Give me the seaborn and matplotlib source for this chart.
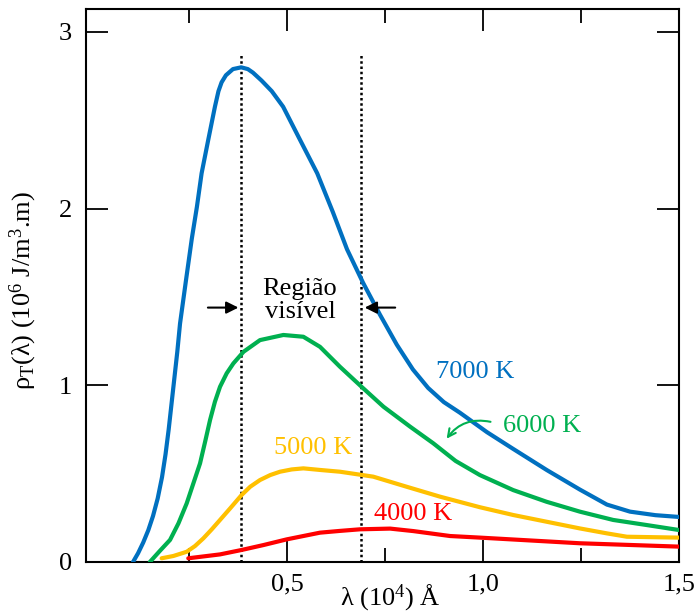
import numpy as np
import pandas as pd
import seaborn as sns
import matplotlib.pyplot as plt

# curves (x in 10^4 Angstrom, y in 10^6 J/m3.m)
lam_7000 = [0.107, 0.120, 0.133, 0.146, 0.158, 0.170, 0.181, 0.190, 0.198, 0.205,
            0.212, 0.220, 0.227, 0.2425, 0.257, 0.270, 0.282, 0.299, 0.316, 0.325,
            0.333, 0.344, 0.362, 0.383, 0.400, 0.413, 0.435, 0.461, 0.490, 0.533,
            0.577, 0.617, 0.653, 0.694, 0.737, 0.780, 0.821, 0.860, 0.900, 0.941,
            1.010, 1.077, 1.163, 1.247, 1.316, 1.375, 1.440, 1.500]
rho_7000 = [0.00, 0.05, 0.11, 0.18, 0.26, 0.36, 0.48, 0.61, 0.75, 0.89,
            1.03, 1.19, 1.35, 1.60, 1.83, 2.01, 2.20, 2.39, 2.577, 2.665,
            2.715, 2.755, 2.79, 2.80, 2.79, 2.77, 2.725, 2.665, 2.577, 2.39,
            2.20, 1.98, 1.77, 1.58, 1.40, 1.23, 1.09, 0.985, 0.905, 0.845,
            0.735, 0.64, 0.52, 0.41, 0.325, 0.285, 0.265, 0.255]

lam_6000 = [0.150, 0.176, 0.2015, 0.223, 0.244, 0.261, 0.278, 0.291, 0.3036, 0.316,
            0.329, 0.346, 0.363, 0.389, 0.431, 0.4906, 0.5416, 0.584, 0.635, 0.690,
            0.746, 0.814, 0.873, 0.930, 0.992, 1.077, 1.162, 1.247, 1.332, 1.418,
            1.500]
rho_6000 = [0.00, 0.064, 0.125, 0.219, 0.332, 0.445, 0.558, 0.681, 0.804, 0.907,
            0.992, 1.068, 1.124, 1.19, 1.256, 1.285, 1.275, 1.218, 1.105, 0.992,
            0.879, 0.766, 0.672, 0.572, 0.492, 0.407, 0.341, 0.285, 0.238, 0.209,
            0.181]

lam_5000 = [0.180, 0.210, 0.244, 0.265, 0.2865, 0.308, 0.329, 0.355, 0.384, 0.406,
            0.431, 0.457, 0.482, 0.512, 0.5416, 0.584, 0.635, 0.720, 0.805, 0.890,
            0.992, 1.077, 1.162, 1.247, 1.316, 1.367, 1.500]
rho_5000 = [0.021, 0.034, 0.058, 0.09, 0.134, 0.185, 0.238, 0.304, 0.379, 0.426,
            0.464, 0.492, 0.511, 0.524, 0.530, 0.521, 0.511, 0.483, 0.426, 0.37,
            0.31, 0.266, 0.228, 0.19, 0.162, 0.143, 0.138]

lam_4000 = [0.248, 0.329, 0.384, 0.440, 0.499, 0.584, 0.635, 0.686, 0.763, 0.822,
            0.916, 0.992, 1.247, 1.500]
rho_4000 = [0.021, 0.043, 0.068, 0.096, 0.128, 0.166, 0.176, 0.185, 0.189, 0.175,
            0.147, 0.138, 0.106, 0.087]

visible_edges = [0.383, 0.689]
x_ticks = [0.5, 1.0, 1.5]
x_tick_labels = ["0,5", "1,0", "1,5"]
x_minor = [0.25, 0.75, 1.25]
y_ticks = [0, 1, 2, 3]

colors = {"7000 K": "#0070C0", "6000 K": "#00B050",
          "5000 K": "#FFC000", "4000 K": "#FF0000"}

frames = []
for name, xs, ys in [("7000 K", lam_7000, rho_7000), ("6000 K", lam_6000, rho_6000),
                     ("5000 K", lam_5000, rho_5000), ("4000 K", lam_4000, rho_4000)]:
    frames.append(pd.DataFrame({"lam": xs, "rho": ys, "T": name}))
df = pd.concat(frames, ignore_index=True)

sns.set_theme(style="white")
plt.rcParams["font.family"] = ["Liberation Serif", "DejaVu Serif"]
plt.rcParams["mathtext.fontset"] = "custom"
plt.rcParams["mathtext.rm"] = "Liberation Serif"
plt.rcParams["mathtext.it"] = "Liberation Serif:italic"

FS = 19

fig = plt.figure(figsize=(6.95, 6.14), dpi=100)
ax = fig.add_axes([0.1237, 0.0847, 0.8533, 0.9006])

sns.lineplot(data=df, x="lam", y="rho", hue="T", palette=colors,
             hue_order=["4000 K", "5000 K", "6000 K", "7000 K"],
             linewidth=3, legend=False, ax=ax, zorder=3)

ax.vlines(visible_edges, 0, 2.87, colors="black", linewidth=1.8,
          linestyles=(0, (1, 1.1)), zorder=2)

ax.set_xlim(-0.013, 1.5)
ax.set_ylim(0, 3.13)

ax.set_xticks(x_ticks)
ax.set_xticklabels(x_tick_labels)
ax.set_xticks(x_minor, minor=True)
ax.set_yticks(y_ticks)
ax.set_yticklabels([str(v) for v in y_ticks])
ax.xaxis.set_ticks_position("both")
ax.yaxis.set_ticks_position("both")
ax.tick_params(axis="both", which="major", direction="in", length=16, width=1.3,
               labelsize=FS, color="black", labelcolor="black")
ax.tick_params(axis="x", which="minor", direction="in", length=10, width=1.3,
               color="black", bottom=True, top=True)
ax.tick_params(axis="x", which="major", pad=8, bottom=True, top=True,
               labelbottom=True, labeltop=False)
ax.tick_params(axis="y", which="major", pad=10, left=True, right=True,
               labelleft=True, labelright=False)
for s in ax.spines.values():
    s.set_linewidth(1.5)
    s.set_color("black")

ax.set_xlabel("λ (10$^4$) Å", fontsize=FS, color="black")
ax.xaxis.set_label_coords(0.514, -0.036)
ax.set_ylabel("ρ${}_\\mathrm{T}$(λ) (10$^6$ J/m$^3$.m)", fontsize=FS, color="black")
ax.yaxis.set_label_coords(-0.08, 0.49)

# annotations
ax.text(0.533, 1.48, "Região\nvisível", ha="center", va="center", fontsize=FS,
        linespacing=1.1, color="black")
ax.annotate("", xy=(0.383, 1.44), xytext=(0.291, 1.44),
            arrowprops=dict(arrowstyle="-|>", color="black", lw=1.5, mutation_scale=18))
ax.annotate("", xy=(0.691, 1.44), xytext=(0.783, 1.44),
            arrowprops=dict(arrowstyle="-|>", color="black", lw=1.5, mutation_scale=18))

ax.text(0.98, 1.04, "7000 K", color=colors["7000 K"], fontsize=FS, ha="center", va="baseline")
ax.text(1.15, 0.736, "6000 K", color=colors["6000 K"], fontsize=FS, ha="center", va="baseline")
ax.text(0.566, 0.611, "5000 K", color=colors["5000 K"], fontsize=FS, ha="center", va="baseline")
ax.text(0.821, 0.238, "4000 K", color=colors["4000 K"], fontsize=FS, ha="center", va="baseline")
ax.annotate("", xy=(0.903, 0.685), xytext=(1.026, 0.79),
            arrowprops=dict(arrowstyle="->", color=colors["6000 K"], lw=1.5,
                            mutation_scale=14, connectionstyle="arc3,rad=0.35"))

fig.savefig("out.png", dpi=100)
